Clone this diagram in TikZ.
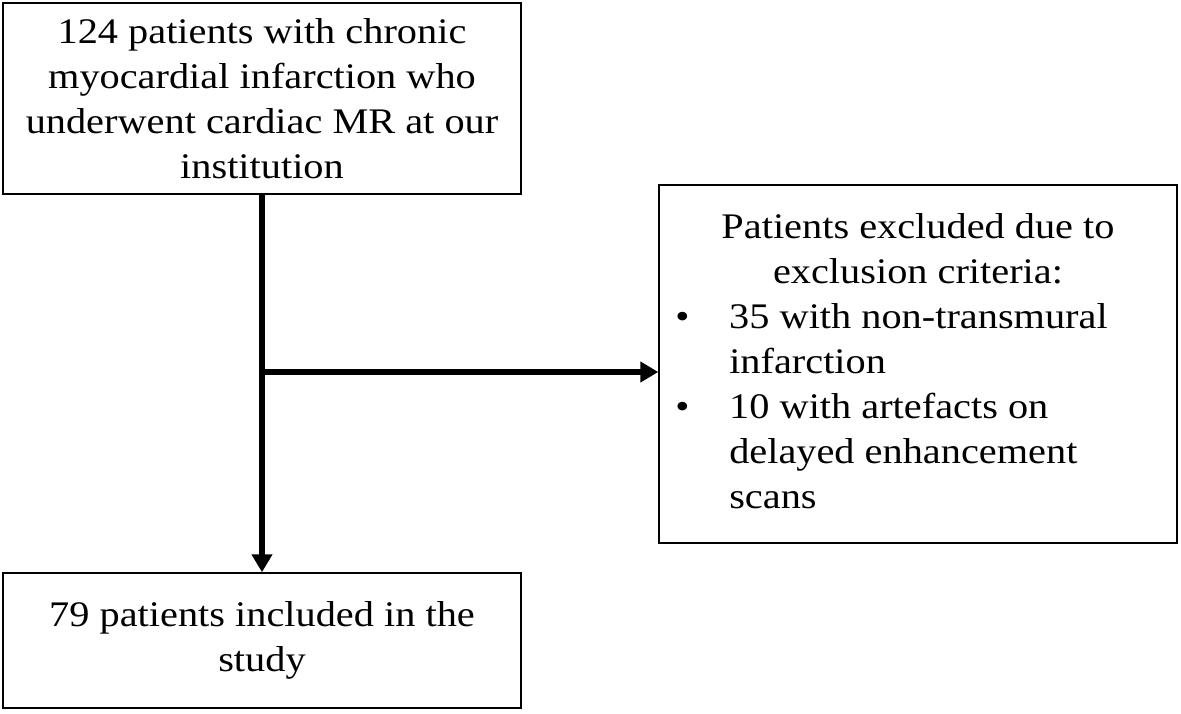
\documentclass[tikz,border=0pt]{standalone}
\usepackage{fontspec}
\setmainfont{Liberation Serif}[FakeStretch=1.12]
\usetikzlibrary{arrows.meta,positioning}

\begin{document}
\begin{tikzpicture}[x=1pt,y=-1pt]
\tikzstyle{every node}+=[inner sep=0pt,font=\fontsize{36}{45}\selectfont]
\tikzstyle{box}=[draw=black,line width=1.5pt,minimum width=518pt]
\tikzstyle{flow}=[line width=6pt,-{Triangle[length=18pt,width=20pt]}]
\useasboundingbox (0,0) rectangle (1181,713);
\node [box,minimum height=191pt,align=center] (source) at (262,98.5) {124 patients with chronic\\myocardial infarction who\\underwent cardiac MR at our\\institution};
\node [box,minimum height=358pt] (excluded) at (918,364) {\begin{tabular}{@{}p{54pt}@{}l@{\hspace{53pt}}}
\multicolumn{2}{@{}c@{}}{Patients excluded due to}\\
\multicolumn{2}{@{}c@{}}{exclusion criteria:}\\
\textbullet & 35 with non-transmural\\
 & infarction\\
\textbullet & 10 with artefacts on\\
 & delayed enhancement\\
 & scans
\end{tabular}};
\node [box,minimum height=135pt,align=center] (included) at (262,640.5) {79 patients included in the\\study};
\coordinate (split) at (262,372);
\draw [flow] (source.south) -- (included.north);
\draw [flow] (split) -- (split -| excluded.west);
\end{tikzpicture}
\end{document}
